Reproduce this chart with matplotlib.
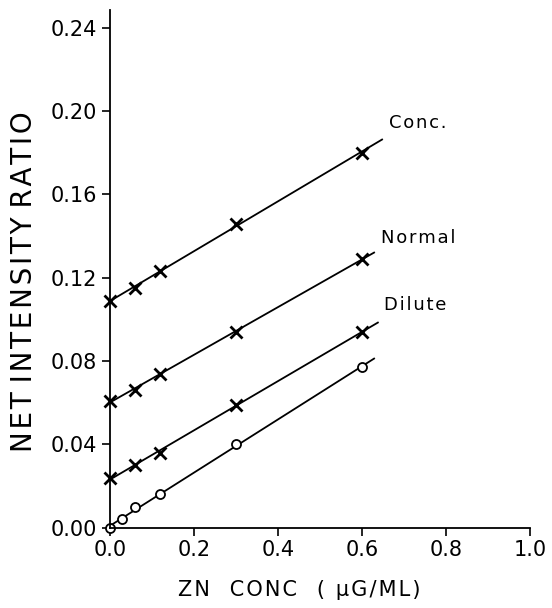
import matplotlib.pyplot as plt
import numpy as np

plt.rcParams['font.family'] = ['DejaVu Sans']

# Data
conc_x = [0.0, 0.06, 0.12, 0.30, 0.60]
conc_y = [0.109, 0.115, 0.123, 0.146, 0.180]

normal_x = [0.0, 0.06, 0.12, 0.30, 0.60]
normal_y = [0.061, 0.066, 0.074, 0.094, 0.129]

dilute_x = [0.0, 0.06, 0.12, 0.30, 0.60]
dilute_y = [0.024, 0.030, 0.036, 0.059, 0.094]

circle_x = [0.0, 0.03, 0.06, 0.12, 0.30, 0.60]
circle_y = [0.0, 0.004, 0.010, 0.016, 0.040, 0.077]

# how far each fitted line runs to the right
line_end = [0.648, 0.629, 0.638, 0.629]

labels = ["Conc.", "Normal", "Dilute"]
label_pos = [(0.665, 0.194), (0.645, 0.139), (0.652, 0.107)]

xticks = [0.0, 0.2, 0.4, 0.6, 0.8, 1.0]
xticklabels = ["0.0", "0.2", "0.4", "0.6", "0.8", "1.0"]
yticks = [0.00, 0.04, 0.08, 0.12, 0.16, 0.20, 0.24]
yticklabels = ["0.00", "0.04", "0.08", "0.12", "0.16", "0.20", "0.24"]


def spaced(s, gap="\u200a"):
    # letter-spaced look of the old stencil lettering
    return gap.join(s)


fig = plt.figure(figsize=(5.52, 6.08), dpi=100)
ax = fig.add_axes([0.199, 0.132, 0.761, 0.852])

series = [(conc_x, conc_y, "x"), (normal_x, normal_y, "x"),
          (dilute_x, dilute_y, "x"), (circle_x, circle_y, "o")]

for (xs, ys, m), xe in zip(series, line_end):
    xs = np.array(xs)
    ys = np.array(ys)
    slope, icpt = np.polyfit(xs, ys, 1)
    xl = np.array([0.0, xe])
    ax.plot(xl, slope * xl + icpt, "-", color="black", lw=1.3)
    if m == "x":
        ax.plot(xs, ys, "x", color="black", ms=8, mew=2.0, clip_on=False)
    else:
        ax.plot(xs, ys, "o", mfc="white", mec="black", ms=6.5, mew=1.3,
                clip_on=False)

for lab, (lx, ly) in zip(labels, label_pos):
    ax.text(lx, ly, spaced(lab), fontsize=13, ha="left", va="center")

ax.set_xlim(0, 1.0)
ax.set_ylim(0, 0.2486)
ax.set_xticks(xticks)
ax.set_xticklabels(xticklabels)
ax.set_yticks(yticks)
ax.set_yticklabels(yticklabels)
ax.tick_params(labelsize=15, length=6, width=1.2, direction="out", pad=3)
ax.spines["top"].set_visible(False)
ax.spines["right"].set_visible(False)
ax.spines["left"].set_linewidth(1.3)
ax.spines["bottom"].set_linewidth(1.3)

ax.set_xlabel(spaced("ZN") + "   " + spaced("CONC") + "   " + spaced("( μG/ML)"),
              fontsize=15)
ax.set_ylabel(spaced("NET") + " " + spaced("INTENSITY") + " " + spaced("RATIO"),
              fontsize=20)
ax.xaxis.set_label_coords(0.452, -0.100)
ax.yaxis.set_label_coords(-0.172, 0.475)

fig.savefig("out.png", dpi=100)
